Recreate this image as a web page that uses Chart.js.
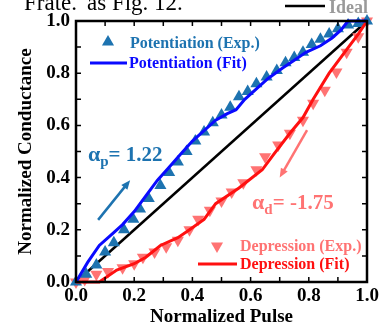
<!DOCTYPE html>
<html>
<head>
<meta charset="utf-8">
<script src="https://cdn.jsdelivr.net/npm/chart.js@4.4.1/dist/chart.umd.min.js"></script>
<style>
  body { margin: 0; background: #fff; }
  #wrap { position: relative; width: 388px; height: 328px; }
</style>
</head>
<body>
<div id="wrap"><canvas id="lineChart" width="388" height="328"></canvas></div>
<script>
// potentiation, measured points
const potExpX = [0, 0.035, 0.07, 0.1, 0.13, 0.165, 0.197, 0.22, 0.25, 0.29, 0.32, 0.35, 0.38, 0.41, 0.44, 0.47, 0.5, 0.53, 0.56, 0.59, 0.62, 0.655, 0.69, 0.72, 0.75, 0.78, 0.81, 0.84, 0.87, 0.9, 0.935, 0.97, 1.0];
const potExpY = [0, 0.03, 0.065, 0.115, 0.15, 0.2, 0.24, 0.28, 0.32, 0.37, 0.42, 0.46, 0.5, 0.54, 0.575, 0.61, 0.64, 0.67, 0.71, 0.73, 0.76, 0.785, 0.81, 0.84, 0.86, 0.88, 0.91, 0.93, 0.95, 0.97, 0.985, 0.99, 1.0];
// potentiation, fit
const potFitX = [0, 0.04, 0.08, 0.12, 0.16, 0.2, 0.24, 0.28, 0.32, 0.36, 0.4, 0.44, 0.48, 0.52, 0.55, 0.58, 0.62, 0.66, 0.71, 0.75, 0.79, 0.84, 0.88, 0.91, 0.935, 1.0];
const potFitY = [0, 0.075, 0.14, 0.18, 0.22, 0.27, 0.33, 0.39, 0.44, 0.49, 0.54, 0.58, 0.62, 0.645, 0.66, 0.7, 0.74, 0.78, 0.82, 0.85, 0.88, 0.905, 0.935, 0.965, 1.0, 1.0];
// depression, measured points
const depExpX = [0, 0.03, 0.07, 0.11, 0.16, 0.2, 0.23, 0.27, 0.31, 0.35, 0.39, 0.42, 0.46, 0.5, 0.535, 0.575, 0.62, 0.65, 0.695, 0.735, 0.78, 0.815, 0.855, 0.895, 0.93, 0.97, 1.0];
const depExpY = [0, 0.01, 0.03, 0.04, 0.055, 0.07, 0.095, 0.115, 0.135, 0.16, 0.2, 0.24, 0.275, 0.31, 0.345, 0.38, 0.43, 0.48, 0.525, 0.57, 0.62, 0.685, 0.735, 0.805, 0.88, 0.94, 1.0];
// depression, fit
const depFitX = [0, 0.08, 0.14, 0.2, 0.24, 0.29, 0.35, 0.39, 0.44, 0.48, 0.56, 0.64, 0.68, 0.735, 0.78, 0.815, 0.87, 0.93, 0.97, 1.0];
const depFitY = [0, 0, 0.046, 0.07, 0.095, 0.14, 0.17, 0.2, 0.24, 0.3, 0.36, 0.43, 0.49, 0.57, 0.63, 0.7, 0.8, 0.89, 0.95, 1.0];
// ideal line
const idealX = [0, 1];
const idealY = [0, 1];

const pts = (xs, ys) => xs.map((x, i) => ({ x: x, y: ys[i] }));

const serif = "'Liberation Serif', 'DejaVu Serif', serif";
const potColor = "#1d73b0";
const potFitColor = "#0a0aff";
const depColor = "#ff7373";
const depFitColor = "#ff1010";

function arrow(ctx, x1, y1, x2, y2, color) {
  const ang = Math.atan2(y2 - y1, x2 - x1);
  const hl = 10;
  ctx.strokeStyle = color;
  ctx.fillStyle = color;
  ctx.lineWidth = 2.5;
  ctx.beginPath();
  ctx.moveTo(x1, y1);
  ctx.lineTo(x2 - Math.cos(ang) * hl * 0.7, y2 - Math.sin(ang) * hl * 0.7);
  ctx.stroke();
  ctx.beginPath();
  ctx.moveTo(x2, y2);
  ctx.lineTo(x2 - hl * Math.cos(ang - 0.4), y2 - hl * Math.sin(ang - 0.4));
  ctx.lineTo(x2 - hl * Math.cos(ang + 0.4), y2 - hl * Math.sin(ang + 0.4));
  ctx.closePath();
  ctx.fill();
}

function parts(ctx, list, x, y, color) {
  ctx.fillStyle = color;
  ctx.textAlign = "left";
  ctx.textBaseline = "alphabetic";
  list.forEach((p) => {
    ctx.font = "bold " + p.size + "px " + serif;
    ctx.fillText(p.t, x, y + (p.dy || 0));
    x += ctx.measureText(p.t).width;
  });
}

function tri(ctx, x, y, r, down, color) {
  const s = down ? -1 : 1;
  ctx.fillStyle = color;
  ctx.beginPath();
  ctx.moveTo(x, y - s * r);
  ctx.lineTo(x + r * 0.866, y + s * r * 0.5);
  ctx.lineTo(x - r * 0.866, y + s * r * 0.5);
  ctx.closePath();
  ctx.fill();
}

const framePlugin = {
  id: "frame",
  afterDraw(chart) {
    const { ctx, chartArea: a, scales } = chart;
    const xs = scales.x;
    const ys = scales.y;
    ctx.save();

    // inward ticks on all four sides
    ctx.strokeStyle = "#000";
    ctx.lineWidth = 1.5;
    ctx.beginPath();
    xs.ticks.forEach((t) => {
      const px = xs.getPixelForValue(t.value);
      ctx.moveTo(px, a.bottom);
      ctx.lineTo(px, a.bottom - 5);
      ctx.moveTo(px, a.top);
      ctx.lineTo(px, a.top + 5);
    });
    ys.ticks.forEach((t) => {
      const py = ys.getPixelForValue(t.value);
      ctx.moveTo(a.left, py);
      ctx.lineTo(a.left + 5, py);
      ctx.moveTo(a.right, py);
      ctx.lineTo(a.right - 5, py);
    });
    ctx.stroke();
    ctx.lineWidth = 2.5;
    ctx.strokeRect(a.left, a.top, a.right - a.left, a.bottom - a.top);

    // alpha labels and arrows
    parts(ctx, [
      { t: "\u03b1", size: 22 },
      { t: "p", size: 15, dy: 5 },
      { t: "= 1.22", size: 21 },
    ], xs.getPixelForValue(0.041), ys.getPixelForValue(0.465), potColor);
    arrow(ctx, xs.getPixelForValue(0.076), ys.getPixelForValue(0.238),
      xs.getPixelForValue(0.186), ys.getPixelForValue(0.39), potColor);

    parts(ctx, [
      { t: "\u03b1", size: 22 },
      { t: "d", size: 15, dy: 5 },
      { t: "= -1.75", size: 21 },
    ], xs.getPixelForValue(0.605), ys.getPixelForValue(0.28), depColor);
    arrow(ctx, xs.getPixelForValue(0.794), ys.getPixelForValue(0.582),
      xs.getPixelForValue(0.70), ys.getPixelForValue(0.40), depColor);

    // legends
    ctx.textBaseline = "middle";
    ctx.textAlign = "left";
    ctx.font = "bold 16px " + serif;
    tri(ctx, a.left + 32, a.top + 21, 7, false, potColor);
    ctx.fillStyle = potColor;
    ctx.fillText("Potentiation (Exp.)", a.left + 54, a.top + 23);
    ctx.strokeStyle = potFitColor;
    ctx.lineWidth = 3;
    ctx.beginPath();
    ctx.moveTo(a.left + 14, a.top + 42);
    ctx.lineTo(a.left + 51, a.top + 42);
    ctx.stroke();
    ctx.fillStyle = potFitColor;
    ctx.fillText("Potentiation (Fit)", a.left + 53, a.top + 43);

    tri(ctx, a.left + 141, a.top + 225, 7, true, depColor);
    ctx.fillStyle = depColor;
    ctx.fillText("Depression (Exp.)", a.left + 164, a.top + 226);
    ctx.strokeStyle = depFitColor;
    ctx.beginPath();
    ctx.moveTo(a.left + 122, a.top + 243);
    ctx.lineTo(a.left + 161, a.top + 243);
    ctx.stroke();
    ctx.fillStyle = depFitColor;
    ctx.fillText("Depression (Fit)", a.left + 164, a.top + 244);

    // "Ideal" key above the frame
    ctx.strokeStyle = "#000";
    ctx.lineWidth = 2.5;
    ctx.beginPath();
    ctx.moveTo(285, 6);
    ctx.lineTo(325, 6);
    ctx.stroke();
    ctx.textBaseline = "alphabetic";
    ctx.font = "bold 18px " + serif;
    ctx.fillStyle = "#9a9a9a";
    ctx.fillText("Ideal", 329, 13);

    // clipped caption text from the page above
    ctx.font = "23px " + serif;
    ctx.fillStyle = "#000";
    ctx.textAlign = "right";
    ctx.fillText("Frate.", 77, 10);
    ctx.textAlign = "left";
    ctx.fillText("as Fig. 12.", 87, 10);

    ctx.restore();
  },
};

const tickFont = { family: serif, weight: "bold", size: 19 };
const titleFont = { family: serif, weight: "bold", size: 19 };
const label02 = (v) => (Math.round(v * 10) % 2 === 0 ? v.toFixed(1) : "");

const ctx = document.getElementById("lineChart");
const myChart = new Chart(ctx, {
  type: "scatter",
  data: {
    datasets: [
      {
        label: "Ideal",
        data: pts(idealX, idealY),
        showLine: true,
        borderColor: "#000",
        borderWidth: 2.5,
        pointRadius: 0,
        order: 3,
        clip: false,
      },
      {
        label: "Potentiation (Exp.)",
        data: pts(potExpX, potExpY),
        pointStyle: "triangle",
        pointRadius: 7,
        pointBorderWidth: 0,
        backgroundColor: potColor,
        borderColor: potColor,
        order: 2,
        clip: false,
      },
      {
        label: "Potentiation (Fit)",
        data: pts(potFitX, potFitY),
        showLine: true,
        borderColor: potFitColor,
        borderWidth: 3,
        pointRadius: 0,
        order: 1,
        clip: false,
      },
      {
        label: "Depression (Exp.)",
        data: pts(depExpX, depExpY),
        pointStyle: "triangle",
        rotation: 180,
        pointRadius: 7,
        pointBorderWidth: 0,
        backgroundColor: depColor,
        borderColor: depColor,
        order: 2,
        clip: false,
      },
      {
        label: "Depression (Fit)",
        data: pts(depFitX, depFitY),
        showLine: true,
        borderColor: depFitColor,
        borderWidth: 3,
        pointRadius: 0,
        order: 1,
        clip: false,
      },
    ],
  },
  options: {
    responsive: false,
    animation: false,
    layout: { padding: { top: 21, right: 21, left: 0, bottom: 0 } },
    plugins: {
      legend: { display: false },
      tooltip: { enabled: false },
    },
    scales: {
      x: {
        type: "linear",
        min: 0,
        max: 1,
        afterFit: (s) => { s.height = 46; },
        grid: { display: false, drawTicks: false },
        border: { display: false },
        ticks: {
          stepSize: 0.1,
          autoSkip: false,
          maxRotation: 0,
          padding: 3,
          color: "#000",
          font: tickFont,
          callback: label02,
        },
        title: {
          display: true,
          text: "Normalized Pulse",
          color: "#000",
          font: titleFont,
          padding: { top: 0, bottom: 0 },
        },
      },
      y: {
        type: "linear",
        min: 0,
        max: 1,
        afterFit: (s) => { s.width = 76; },
        grid: { display: false, drawTicks: false },
        border: { display: false },
        ticks: {
          stepSize: 0.1,
          autoSkip: false,
          padding: 6,
          color: "#000",
          font: tickFont,
          callback: label02,
        },
        title: {
          display: true,
          text: "Normalized Conductance",
          color: "#000",
          font: titleFont,
          padding: { top: 15, bottom: 0 },
        },
      },
    },
  },
  plugins: [framePlugin],
});
</script>
</body>
</html>
